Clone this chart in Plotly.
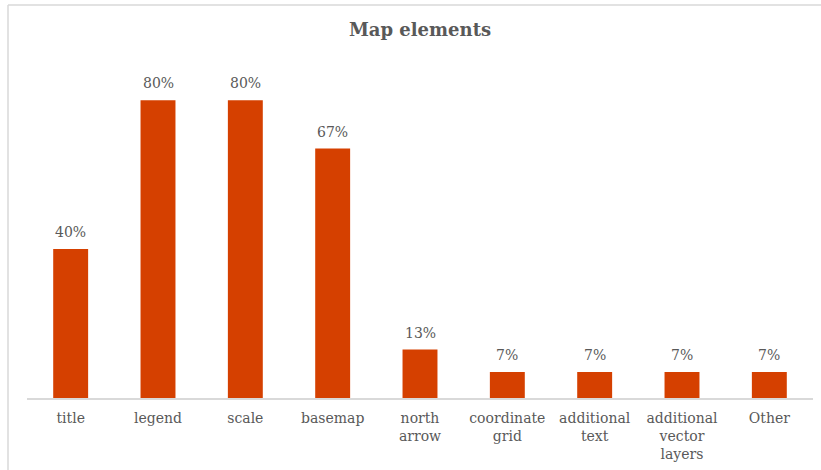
import plotly.graph_objects as go

# Share of maps containing each element (percent)
categories = ["title", "legend", "scale", "basemap", "north<br>arrow",
              "coordinate<br>grid", "additional<br>text",
              "additional<br>vector<br>layers", "Other"]
shares = [40, 80, 80, 67, 13, 7, 7, 7, 7]

W, H = 821, 470
ML, MR, MT, MB = 27, 8, 62.5, 70
plot_w = W - ML - MR
plot_h = H - MT - MB

GRAY = "#595959"
BAR = "#D54000"
LINE = "#D9D9D9"
FONT = "DejaVu Serif"

fig = go.Figure(go.Bar(
    x=categories,
    y=shares,
    marker=dict(color=BAR, line=dict(width=0)),
    cliponaxis=False,
))

# value labels above each bar
for cat, val in zip(categories, shares):
    fig.add_annotation(x=cat, y=val, text=f"{val}%", showarrow=False,
                       xanchor="center", yanchor="bottom", yshift=7,
                       font=dict(family=FONT, size=14, color=GRAY))

# outer chart frame (left and top edges)
def px_x(v):
    return (v - ML) / plot_w

def px_y(v):
    return (H - MB - v) / plot_h

fig.add_shape(type="line", xref="paper", yref="paper",
              x0=px_x(8), x1=px_x(830), y0=px_y(4), y1=px_y(4),
              line=dict(color=LINE, width=1.5))
fig.add_shape(type="line", xref="paper", yref="paper",
              x0=px_x(8), x1=px_x(8), y0=px_y(4), y1=px_y(480),
              line=dict(color=LINE, width=1.5))

fig.update_layout(
    width=W, height=H, autosize=False,
    margin=dict(l=ML, r=MR, t=MT, b=MB),
    paper_bgcolor="white", plot_bgcolor="white",
    bargap=0.6,
    showlegend=False,
    title=dict(text="<b>Map elements</b>", x=0.5, xref="paper",
               xanchor="center", y=1 - 30 / H, yanchor="middle",
               font=dict(family=FONT, size=18, color=GRAY)),
    xaxis=dict(showline=True, linecolor=LINE, linewidth=1.5,
               ticks="", showgrid=False, ticklabelstandoff=6,
               tickfont=dict(family=FONT, size=14, color=GRAY)),
    yaxis=dict(range=[0, 90], visible=False, showgrid=False),
)

fig.write_html("out.html")
